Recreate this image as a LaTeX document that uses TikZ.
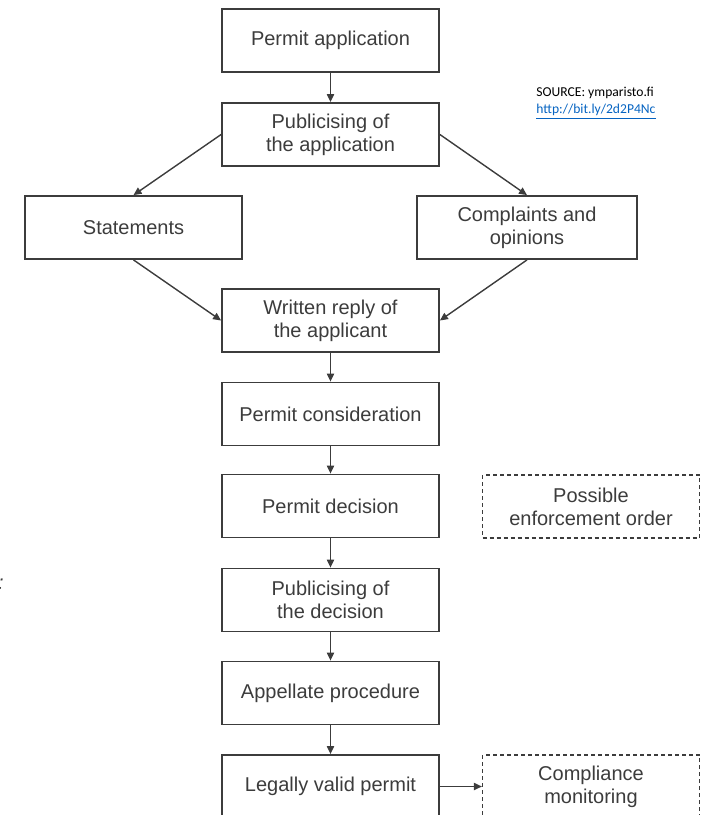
\documentclass[tikz,border=0pt]{standalone}
\usepackage{fontspec}
\setmainfont{Liberation Sans}
\newfontfamily\srcfont{Carlito}
\usetikzlibrary{arrows.meta}
\definecolor{boxline}{RGB}{60,60,60}
\definecolor{boxtext}{RGB}{60,60,60}
\definecolor{linkblue}{RGB}{5,99,193}

\begin{document}
\begin{tikzpicture}[x=0.5pt,y=-0.5pt,
    stage/.style={draw=boxline,line width=0.9pt,text=boxtext,align=center,
      minimum width=108.5pt,minimum height=31.5pt,inner sep=0pt,
      font=\fontsize{10}{11.5}\selectfont},
    option/.style={stage,line width=0.6pt,dash pattern=on 2pt off 1.5pt},
    flow/.style={draw=boxline,line width=0.7pt,-{Triangle[length=4pt,width=3.6pt]}}]
  \clip (0,0) rectangle (701,815);
  % stages
  \node[stage] (app) at (330.5,40.5) {Permit application};
  \node[stage] (pubapp) at (330.5,134.5) {Publicising of\\the application};
  \node[stage] (stat) at (133.5,227.5) {Statements};
  \node[stage,minimum width=110pt] (compl) at (527,227.5) {Complaints and\\opinions};
  \node[stage] (reply) at (330.5,320.5) {Written reply of\\the applicant};
  \node[stage] (consid) at (330.5,414) {Permit consideration};
  \node[stage] (decision) at (330.5,506) {Permit decision};
  \node[stage] (pubdec) at (330.5,600) {Publicising of\\the decision};
  \node[stage] (appeal) at (330.5,693) {Appellate procedure};
  \node[stage] (valid) at (330.5,786.5) {Legally valid permit};
  % optional steps
  \node[option] (enforce) at (591,506.5) {Possible\\enforcement order};
  \node[option] (monitor) at (591,786.5) {Compliance\\monitoring};
  % source
  \node[anchor=base west,inner sep=0pt,font=\srcfont\fontsize{6.8}{8}\selectfont] (src) at (536,96) {SOURCE: ymparisto.fi};
  \node[anchor=base west,inner sep=0pt,text=linkblue,font=\srcfont\fontsize{6.8}{8}\selectfont] (link) at (536,113) {\underline{http://bit.ly/2d2P4Nc}};
  \node[text=boxtext,font=\itshape\fontsize{10}{10}\selectfont] (mark) at (1,584) {:};
  % flows
  \draw[flow] (app) -- (pubapp);
  \draw[flow] (pubapp.west) -- (stat.north);
  \draw[flow] (pubapp.east) -- (compl.north);
  \draw[flow] (stat.south) -- (reply.west);
  \draw[flow] (compl.south) -- (reply.east);
  \draw[flow] (reply) -- (consid);
  \draw[flow] (consid) -- (decision);
  \draw[flow] (decision) -- (pubdec);
  \draw[flow] (pubdec) -- (appeal);
  \draw[flow] (appeal) -- (valid);
  \draw[flow] (valid) -- (monitor);
\end{tikzpicture}
\end{document}
